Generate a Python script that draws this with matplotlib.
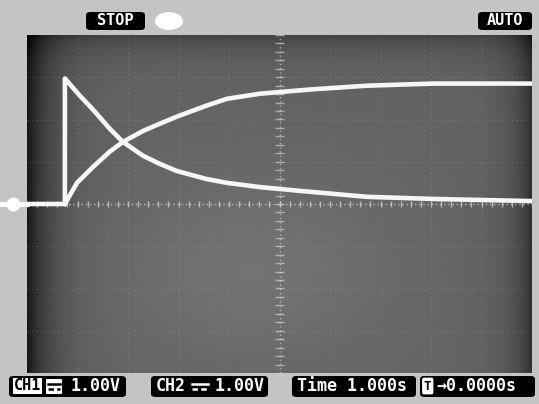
import numpy as np
import matplotlib
matplotlib.use("Agg")
import matplotlib.pyplot as plt
from matplotlib.patches import FancyBboxPatch, Ellipse
from matplotlib.lines import Line2D
from matplotlib.transforms import blended_transform_factory

# trace samples: time in s (1 s/div, trigger at centre), level in V (1 V/div)
ch1_t = [-5.0, -4.25, -4.25, -3.95, -3.69, -3.36, -3.10, -2.70, -2.37, -2.03,
         -1.44, -1.04, -0.39, 0.41, 1.73, 3.04, 4.96]
ch1_v = [0.0, 0.0, 2.97, 2.56, 2.23, 1.78, 1.47, 1.14, 0.95, 0.78,
         0.59, 0.50, 0.40, 0.31, 0.17, 0.12, 0.07]
ch2_t = [-4.25, -4.01, -3.69, -3.36, -3.10, -2.70, -2.37, -2.03, -1.44, -1.04,
         -0.39, 0.60, 1.73, 3.04, 4.96]
ch2_v = [0.0, 0.50, 0.88, 1.24, 1.47, 1.73, 1.90, 2.07, 2.33, 2.49,
         2.61, 2.71, 2.80, 2.85, 2.85]

# status readouts
run_state = "STOP"
trig_mode = "AUTO"
ch1_scale = "1.00V"
ch2_scale = "1.00V"
time_scale = "1.000s"
trig_pos = "\u21920.0000s"

W, H = 539, 404
MONO = ["DejaVu Sans Mono", "DejaVu Sans"]


def fx(px):
    return px / W


def fy(py):
    return 1 - py / H


def box(x0, x1, y0, y1, fc="black", r=0.008):
    fig.patches.append(FancyBboxPatch(
        (fx(x0), fy(y1)), fx(x1) - fx(x0), fy(y0) - fy(y1),
        boxstyle="round,pad=0,rounding_size=%g" % r,
        transform=fig.transFigure, fc=fc, ec="none"))


def label(x, y, s, color="white", size=12, ha="left"):
    fig.text(fx(x), fy(y), s, color=color, ha=ha, va="center",
             fontsize=size, fontweight="bold", family=MONO)


def dc_symbol(x0, x1, yc, color):
    # coupling mark: solid bar over a dashed bar
    fig.add_artist(Line2D([fx(x0), fx(x1)], [fy(yc - 2.5)] * 2, color=color, lw=1.8,
                          transform=fig.transFigure))
    fig.add_artist(Line2D([fx(x0), fx(x1)], [fy(yc + 2.5)] * 2, color=color, lw=1.8,
                          ls=(0, (2.2, 1.3)), transform=fig.transFigure))


fig = plt.figure(figsize=(W / 100, H / 100), dpi=100, facecolor="#c4c4c4")

# screen area
ax = fig.add_axes([fx(27), fy(373), fx(532) - fx(27), fy(35) - fy(373)])
ax.set_xlim(-5, 5)
ax.set_ylim(-4, 4)
ax.set_xticks([])
ax.set_yticks([])
for s in ax.spines.values():
    s.set_visible(False)

# screen shading, darker towards the bezel
gx = np.linspace(0, 1, 400)[None, :]
gy = np.linspace(0, 1, 300)[:, None]
shade = 0.39 + 0.06 * np.exp(-((gx - 0.45) ** 2 + (gy - 0.3) ** 2) / 0.08)
shade = shade - 0.30 * np.exp(-gx / 0.045) - 0.20 * np.exp(-(1 - gx) / 0.035)
shade = shade - 0.12 * np.exp(-(1 - gy) / 0.05)
ax.imshow(shade, cmap="gray", vmin=0, vmax=1, extent=[-5, 5, -4, 4],
          aspect="auto", origin="lower", zorder=0, interpolation="bilinear")

# graticule
for gxv in range(-4, 5):
    if gxv != 0:
        ax.axvline(gxv, color="#b8b8b8", lw=0.8, ls=(0, (1, 3)), alpha=0.3, zorder=1)
for gyv in range(-3, 4):
    if gyv != 0:
        ax.axhline(gyv, color="#b8b8b8", lw=0.8, ls=(0, (1, 3)), alpha=0.3, zorder=1)
ax.axhline(0, color="#dcdcdc", lw=1.0, ls=(0, (1, 2)), alpha=0.7, zorder=1)
ax.axvline(0, color="#dcdcdc", lw=1.0, ls=(0, (1, 2)), alpha=0.6, zorder=1)
ax.vlines(np.arange(-5, 5.01, 0.2), -0.07, 0.07, color="#dcdcdc", lw=1.0, alpha=0.7, zorder=1)
ax.hlines(np.arange(-4, 4.01, 0.2), -0.08, 0.08, color="#dcdcdc", lw=1.0, alpha=0.6, zorder=1)

# traces
ax.plot(ch1_t, ch1_v, color="#f6f6f6", lw=3.3, solid_joinstyle="round", zorder=3)
ax.plot(ch2_t, ch2_v, color="#f6f6f6", lw=3.3, solid_joinstyle="round", zorder=3)

# ground level marker on the bezel
trans = blended_transform_factory(fig.transFigure, ax.transData)
ax.plot([fx(1), fx(27)], [0, 0], color="white", lw=3.5, transform=trans, clip_on=False)
ax.plot([fx(13)], [0], "o", color="white", ms=9, transform=trans, clip_on=False)

# top status bar
box(86, 145, 12, 30)
label(115.5, 20.5, run_state, size=11, ha="center")
fig.patches.append(Ellipse((fx(169), fy(21)), fx(28), 18 / H, fc="white", ec="none",
                           transform=fig.transFigure))
box(478, 532, 12, 30)
label(505, 20.5, trig_mode, size=11, ha="center")

# bottom readouts
yb = 386
box(9, 126, 376, 397)
fig.text(fx(14), fy(yb), "CH1", color="black", ha="left", va="center", fontsize=11,
         fontweight="bold", family=MONO,
         bbox=dict(fc="white", ec="none", pad=0.5))
box(46, 62, 379, 394, fc="white", r=0.002)
dc_symbol(48, 60, yb, "black")
label(71, yb, ch1_scale)

box(151, 268, 376, 397)
label(156, yb, "CH2")
dc_symbol(192, 208, yb, "white")
label(214, yb, ch2_scale)

box(292, 416, 376, 397)
label(297, yb, "Time " + time_scale)

box(420, 535, 376, 397)
fig.text(fx(424), fy(yb), "T", color="black", ha="left", va="center", fontsize=9,
         fontweight="bold", family=MONO,
         bbox=dict(boxstyle="round,pad=0.15", fc="white", ec="none"))
label(436, yb, trig_pos)

fig.savefig("out.png", dpi=100, facecolor=fig.get_facecolor())
plt.close(fig)
